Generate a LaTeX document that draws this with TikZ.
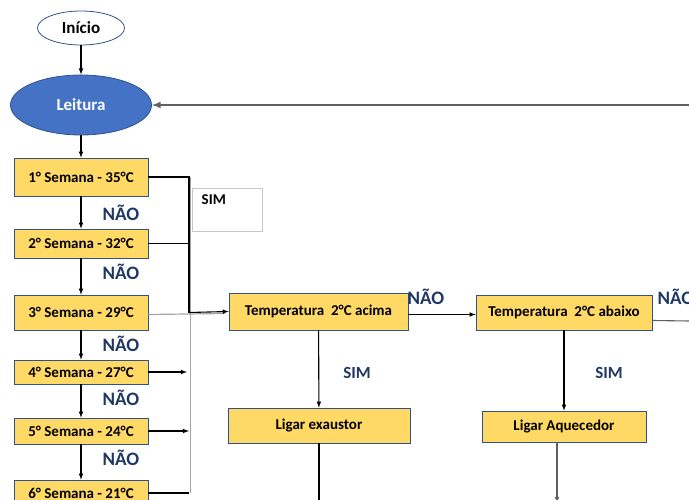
\documentclass[tikz,border=0pt]{standalone}
\usepackage{fontspec}
\setmainfont{Carlito}
\usepackage{xcolor}
\usetikzlibrary{arrows,shapes,positioning}

\definecolor{caixa}{HTML}{FFD966}
\definecolor{borda}{HTML}{2F528F}
\definecolor{azul}{HTML}{4472C4}
\definecolor{escuro}{HTML}{1F3864}
\definecolor{cinza}{HTML}{606060}

\tikzset{
  semana/.style={draw=borda,fill=caixa,semithick,minimum width=134pt,inner sep=0pt,font=\bfseries\fontsize{15}{17}\selectfont},
  teste/.style={draw=borda,fill=caixa,semithick,inner sep=0pt,font=\bfseries\fontsize{15}{17}\selectfont},
  nao/.style={text=escuro,font=\bfseries\fontsize{19}{21}\selectfont},
  sim/.style={text=escuro,font=\bfseries\fontsize{17}{19}\selectfont},
  fio/.style={line width=1.1pt},
  seta/.style={line width=1.1pt,-latex}
}

\begin{document}
\begin{tikzpicture}[x=1pt,y=-1pt]
\useasboundingbox (0,0) rectangle (689,500);
\clip (0,0) rectangle (689,500);

% inicio e leitura
\node[ellipse,draw=borda,thick,minimum width=87pt,minimum height=34pt,inner sep=0pt,font=\bfseries\fontsize{17}{19}\selectfont] (inicio) at (81,28) {Início};
\node[ellipse,draw=borda,thick,fill=azul,text=white,minimum width=141pt,minimum height=60pt,inner sep=0pt,font=\bfseries\fontsize{17}{19}\selectfont] (leitura) at (81,105) {Leitura};
\coordinate (volta) at (689,105);% retorno vindo da direita

% semanas
\node[semana,minimum height=38pt] (s1) at (81,177) {1° Semana - 35°C};
\node[semana,minimum height=29pt] (s2) at (81,243.5) {2° Semana - 32°C};
\node[semana,minimum height=35pt] (s3) at (81,312.5) {3° Semana - 29°C};
\node[semana,minimum height=24pt] (s4) at (81,372) {4° Semana - 27°C};
\node[semana,minimum height=26pt] (s5) at (81,431) {5° Semana - 24°C};
\node[semana,minimum height=26pt] (s6) at (81,493) {6° Semana - 21°C};

  \node[nao] (n1) at (121,213) {NÃO};
  \node[nao] (n2) at (121,272) {NÃO};
  \node[nao] (n3) at (121,344) {NÃO};
  \node[nao] (n4) at (121,398) {NÃO};
  \node[nao] (n5) at (121,458) {NÃO};

% caixa do SIM
\node[draw=gray!45,line width=1pt,minimum width=70pt,minimum height=43pt] (simcaixa) at (227,210.5) {};
\node[anchor=north west,inner sep=0pt,font=\bfseries\fontsize{15}{17}\selectfont] (simtxt) at ([xshift=10pt,yshift=-6pt]simcaixa.north west) {SIM};

% testes de temperatura
\node[teste,minimum width=179pt,minimum height=37pt] (tacima) at (318.5,311.5) {Temperatura~ 2°C acima};
\node[teste,minimum width=176pt,minimum height=35pt] (tabaixo) at (564,312.5) {Temperatura~ 2°C abaixo};
\node[teste,minimum width=182pt,minimum height=35pt] (exaustor) at (319,425.5) {Ligar exaustor};
\node[teste,minimum width=164pt,minimum height=31pt] (aquecedor) at (564,426.5) {Ligar Aquecedor};

  \node[nao] (n6) at (426,297) {NÃO};
  \node[nao] (n7) at (676,297) {NÃO};
  \node[sim] (sim1) at (357,373) {SIM};
  \node[sim] (sim2) at (609,373) {SIM};

\coordinate (barra) at (189,0);% linha vertical que junta as semanas
\coordinate (saida) at (689,321);
\coordinate (fim) at (0,503);

% ligacoes
\draw[seta] (inicio) -- (leitura);
\draw[line width=2pt,cinza,-latex] (volta) -- (leitura.east);
\draw[seta] (leitura) -- (s1);
\draw[seta] (s1) -- (s2);
\draw[seta] (s2) -- (s3);
\draw[seta] (s3) -- (s4);
\draw[seta] (s4) -- (s5);
\draw[seta] (s5) -- (s6);

\draw[gray!70,line width=1.2pt] ([xshift=1.5pt]s1.east -| barra) -- ([xshift=1.5pt]s6.east -| barra);% linha cinza
\draw[gray!70,line width=1.2pt] ([yshift=-2pt]s3.east) -- ([yshift=-2pt,xshift=-4pt]tacima.west);
\draw[fio] (s1.east) -- (s1.east -| barra) -- (s3.east -| barra);
\draw[fio] (s2.east) -- (s2.east -| barra);
\draw[seta] (s3.east -| barra) -- (tacima.west);
\draw[seta,shorten >=2pt] (s4.east) -- (s4.east -| barra);
\draw[seta] (s5.east) -- (s5.east -| barra);
\draw[fio] (s6.east) -- (s6.east -| barra);

\draw[seta] ([yshift=-3pt]tacima.east) -- ([yshift=-3pt]tacima.east -| tabaixo.west);
\draw[fio,cinza] ([yshift=-8pt]tabaixo.east) -- (saida);
\draw[seta] (tacima) -- (exaustor);
\draw[seta] (tabaixo) -- (aquecedor);
\draw[fio] (exaustor.south) -- (exaustor.south |- fim);
\draw[seta,cinza] ([xshift=-7pt]aquecedor.south) -- ([xshift=-7pt]aquecedor.south |- fim);

\end{tikzpicture}
\end{document}
